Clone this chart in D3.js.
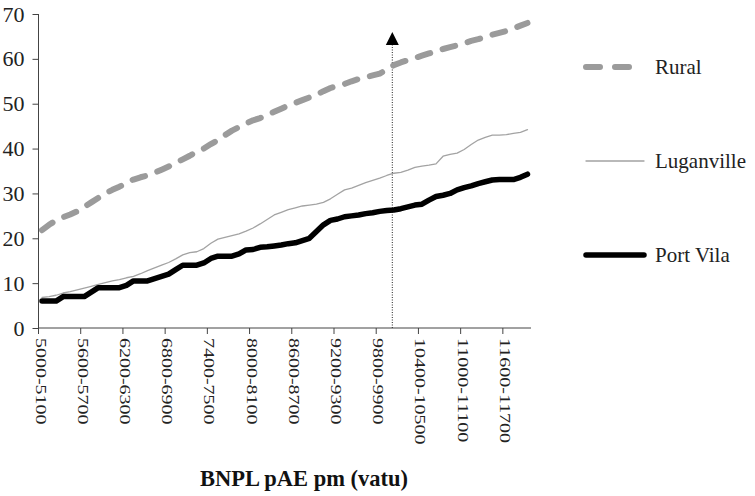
<!DOCTYPE html>
<html>
<head>
<meta charset="utf-8">
<script src="https://cdn.jsdelivr.net/npm/d3@7"></script>
<style>
  body { margin: 0; background: #fff; }
  svg { display: block; font-family: "Liberation Serif", "Times New Roman", serif; }
  svg text { font-family: "Liberation Serif", "Times New Roman", serif; }
</style>
</head>
<body>
<svg id="chart" width="755" height="496"></svg>
<script>
const categories = [
  '5000-5100', '5100-5200', '5200-5300', '5300-5400', '5400-5500', '5500-5600',
  '5600-5700', '5700-5800', '5800-5900', '5900-6000', '6000-6100', '6100-6200',
  '6200-6300', '6300-6400', '6400-6500', '6500-6600', '6600-6700', '6700-6800',
  '6800-6900', '6900-7000', '7000-7100', '7100-7200', '7200-7300', '7300-7400',
  '7400-7500', '7500-7600', '7600-7700', '7700-7800', '7800-7900', '7900-8000',
  '8000-8100', '8100-8200', '8200-8300', '8300-8400', '8400-8500', '8500-8600',
  '8600-8700', '8700-8800', '8800-8900', '8900-9000', '9000-9100', '9100-9200',
  '9200-9300', '9300-9400', '9400-9500', '9500-9600', '9600-9700', '9700-9800',
  '9800-9900', '9900-10000', '10000-10100', '10100-10200', '10200-10300', '10300-10400',
  '10400-10500', '10500-10600', '10600-10700', '10700-10800', '10800-10900', '10900-11000',
  '11000-11100', '11100-11200', '11200-11300', '11300-11400', '11400-11500', '11500-11600',
  '11600-11700', '11700-11800', '11800-11900', '11900-12000'
];

const rural = [
  21.8, 23, 24, 24.7, 25.3, 26, 27, 28, 29, 30,
  30.8, 31.5, 32.3, 33.1, 33.6, 34, 34.6, 35.3, 36, 36.8,
  37.6, 38.4, 39.3, 40, 41, 41.9, 43, 44, 44.8, 45.6,
  46.3, 46.8, 47.5, 48.2, 48.9, 49.6, 50.2, 50.8, 51.4, 52,
  52.8, 53.5, 54, 54.4, 55, 55.5, 55.9, 56.3, 56.7, 57.6,
  58.6, 59.2, 59.7, 60.2, 60.7, 61.2, 61.7, 62.2, 62.6, 63,
  63.5, 64, 64.4, 64.9, 65.4, 65.8, 66.2, 66.8, 67.4, 68
];

const luganville = [
  6.8, 7, 7.3, 7.8, 8.1, 8.5, 8.9, 9.3, 9.7, 10.1,
  10.5, 10.8, 11.2, 11.5, 12.1, 12.8, 13.4, 14, 14.6, 15.4,
  16.3, 16.8, 17, 17.7, 18.9, 19.8, 20.2, 20.6, 21, 21.6,
  22.3, 23.2, 24.2, 25.2, 25.8, 26.4, 26.8, 27.2, 27.4, 27.6,
  28, 28.8, 29.8, 30.8, 31.2, 31.8, 32.4, 32.9, 33.4, 34,
  34.5, 34.7, 35.2, 35.8, 36.1, 36.3, 36.6, 38.3, 38.7, 39,
  39.8, 40.9, 41.9, 42.5, 43, 43, 43.1, 43.4, 43.6, 44.2
];

const portVila = [
  6, 6, 6, 7, 7, 7, 7, 8, 9, 9,
  9, 9, 9.5, 10.5, 10.5, 10.5, 11, 11.5, 12, 13,
  14, 14, 14, 14.5, 15.5, 16, 16, 16, 16.5, 17.4,
  17.5, 18, 18.1, 18.3, 18.5, 18.8, 19, 19.5, 20, 21.5,
  23, 24, 24.3, 24.8, 25, 25.2, 25.5, 25.7, 26, 26.2,
  26.3, 26.6, 27, 27.4, 27.6, 28.5, 29.3, 29.6, 30, 30.8,
  31.3, 31.7, 32.2, 32.6, 33, 33.1, 33.1, 33.1, 33.6, 34.3
];

const yTicks = [0, 10, 20, 30, 40, 50, 60, 70];
const seriesNames = ['Rural', 'Luganville', 'Port Vila'];

// arrow marker drawn up from the axis at this category
const markerCategory = '10000-10100';
const markerTop = 66;

let svg = d3.select('#chart');

let plot = { left: 38.5, right: 531, top: 14, bottom: 328 };

let xScale = d3.scaleBand()
  .domain(categories)
  .range([plot.left, plot.right])
  .padding(0);

let yScale = d3.scaleLinear()
  .domain([0, 70])
  .range([plot.bottom, plot.top]);

let xMid = d => xScale(d) + xScale.bandwidth() / 2;

let styles = {
  'Rural': { color: '#9b9b9b', width: 6, dash: '13,13', legendDash: '14,15' },
  'Luganville': { color: '#a3a3a3', width: 1.3, dash: null, legendDash: null },
  'Port Vila': { color: '#000', width: 5.5, dash: null, legendDash: null }
};

let seriesData = [
  { name: 'Rural', values: rural },
  { name: 'Luganville', values: luganville },
  { name: 'Port Vila', values: portVila }
];

const serif = '"Liberation Serif", "Times New Roman", serif';

// y axis
let yAxis = svg.append('g')
  .attr('transform', `translate(${plot.left},0)`)
  .call(d3.axisLeft(yScale).tickValues(yTicks).tickSize(6).tickPadding(8).tickFormat(d3.format('d')));
yAxis.attr('font-family', serif);
yAxis.select('.domain').attr('stroke', '#444').attr('d', `M0,${plot.bottom}V${plot.top}`);
yAxis.selectAll('.tick line').attr('stroke', '#444');
yAxis.selectAll('.tick text')
  .attr('fill', '#222')
  .attr('font-family', serif)
  .style('font-size', '22px');

// x axis (ticks at every 6th category boundary)
let tickCats = categories.filter((d, i) => i % 6 === 0);
let xAxis = svg.append('g').attr('font-family', serif);
xAxis.append('line')
  .attr('x1', plot.left).attr('x2', plot.right)
  .attr('y1', plot.bottom).attr('y2', plot.bottom)
  .attr('stroke', '#444');
xAxis.selectAll('.xtick')
  .data(tickCats)
  .enter()
  .append('line')
  .attr('class', 'xtick')
  .attr('x1', d => xScale(d)).attr('x2', d => xScale(d))
  .attr('y1', plot.bottom).attr('y2', plot.bottom + 6)
  .attr('stroke', '#444');
xAxis.selectAll('.xlabel')
  .data(tickCats)
  .enter()
  .append('text')
  .attr('class', 'xlabel')
  .attr('transform', d => `translate(${xMid(d) - 1},${plot.bottom + 10}) rotate(90) scale(1,0.78)`)
  .attr('dy', '0.35em')
  .attr('fill', '#222')
  .attr('font-family', serif)
  .style('font-size', '20px')
  .text(d => d);

// dotted arrow marker
let mx = xMid(markerCategory) - 1.5;
svg.append('line')
  .attr('x1', mx).attr('x2', mx)
  .attr('y1', plot.bottom).attr('y2', yScale(markerTop) + 12)
  .attr('stroke', '#222')
  .attr('stroke-width', 1)
  .attr('stroke-dasharray', '1,1.5');
svg.append('path')
  .attr('d', `M${mx},${yScale(markerTop)}L${mx + 6.5},${yScale(markerTop) + 13}L${mx - 6.5},${yScale(markerTop) + 13}Z`)
  .attr('fill', '#000');

// lines
let line = d3.line()
  .x((d, i) => xMid(categories[i]))
  .y(d => yScale(d));

svg.selectAll('.series')
  .data(seriesData)
  .enter()
  .append('path')
  .attr('class', 'series')
  .attr('fill', 'none')
  .attr('stroke', d => styles[d.name].color)
  .attr('stroke-width', d => styles[d.name].width)
  .attr('stroke-dasharray', d => styles[d.name].dash)
  .attr('stroke-linecap', 'round')
  .attr('stroke-linejoin', 'round')
  .attr('d', d => line(d.values));

// legend
let legendY = { 'Rural': 67, 'Luganville': 161, 'Port Vila': 255 };
let legend = svg.selectAll('.legend')
  .data(seriesNames)
  .enter()
  .append('g')
  .attr('class', 'legend')
  .attr('transform', d => `translate(0,${legendY[d]})`);
legend.append('line')
  .attr('x1', 586).attr('x2', 644)
  .attr('stroke', d => styles[d].color)
  .attr('stroke-width', d => styles[d].width)
  .attr('stroke-dasharray', d => styles[d].legendDash)
  .attr('stroke-linecap', 'round');
legend.append('text')
  .attr('x', 655)
  .attr('dy', '0.35em')
  .attr('fill', '#222')
  .attr('font-family', serif)
  .style('font-size', '21px')
  .text(d => d);

// axis title
svg.append('text')
  .attr('x', 304)
  .attr('y', 486)
  .attr('text-anchor', 'middle')
  .attr('fill', '#111')
  .attr('font-family', serif)
  .style('font-size', '22.5px')
  .style('font-weight', 'bold')
  .text('BNPL pAE pm (vatu)');
</script>
</body>
</html>
